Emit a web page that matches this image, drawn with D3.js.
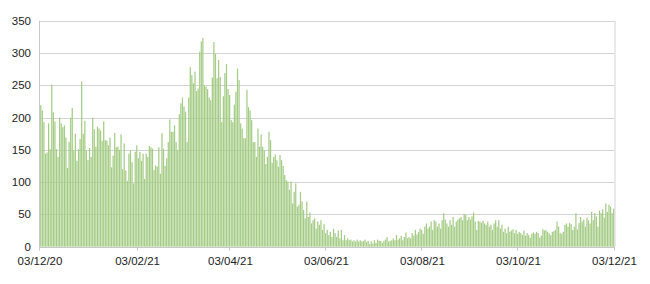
<!DOCTYPE html>
<html>
<head>
<meta charset="utf-8">
<script src="https://cdn.jsdelivr.net/npm/d3@7"></script>
<style>
  html, body { margin: 0; padding: 0; background: #fff; }
  svg text { font-family: "Liberation Sans", Arial, Helvetica, sans-serif; fill: #222; }
</style>
</head>
<body>
<div id="chart"></div>
<script>
// daily values, first day 03/12/20
const startDate = "03/12/20";
const endDate = "03/12/21";

const valsDec = [219,211,193,144,146,191,151,251,208,194,151,139,200,191,185,188,169,122,162,200,
  215,149,175,133,151,167,256,175,195,149,134,153,139,200,182,155,186,183,180,164,
  194,165,164,157,169,123,141,176,154,155,150,174,120];
const valsFeb = [160,118,102,144,149,131,98,147,157,137,147,133,144,105,144,139,156,154,152,119,
  126,124,154,113,176,152,125,137,162,197,178,178,188,162,150,205,222,231,217,209,
  162,231,278,266,253,271,241,245,302,318];
const valsApr = [323,250,248,244,231,227,262,317,299,261,289,263,193,233,269,283,244,235,196,193,
  220,240,276,258,191,183,168,168,243,216,211,196,162,162,139,183,155,174,155,149,
  128,139,178,165,130,139,143,134,124,142,134,125,111,103];
const valsMay = [101,88,101,67,85,98,62,65,85,70,57,44,70,46,53,36,41,44,28,39,
  34,41,26,35,21,26,18,23,15,28,21,15,25,13,26,10,18,10,13,10,
  11,8,10,8,11,8,10,8,9,11,7];
const valsJun = [9,4,8,5,10,6,11,9,9,6,9,11,15,8,9,10,13,10,18,11,
  13,17,10,15,22,13,15,13,21,17,26,19,23,28,26,20,31,36,28,31,
  39,26,41,39,31,36,28,41,52,42,36,31];
const valsAug = [41,34,46,31,39,42,44,46,41,51,49,41,46,42,47,53,39,26,40,39,
  37,40,36,34,39,31,34,26,36,41,31,41,28,34,23,28,21,31,23,25,
  27,21,26,20,23,21,18,25,17,21,18,14];
const valsOct = [20,22,20,23,21,14,17,27,25,26,23,21,18,23,24,26,39,31,21,20,
  23,34,36,31,37,35,26,31,52,27,37,46,39,42,31,45,41,36,54,41,
  52,47,31,56,52,58,45,67,54,65,62,52,59];

const values = [].concat(valsDec, valsFeb, valsApr, valsMay, valsJun, valsAug, valsOct);

const tickLabels = ["03/12/20","03/02/21","03/04/21","03/06/21","03/08/21","03/10/21","03/12/21"];
const yTicks = [0,50,100,150,200,250,300,350];

const W = 650, H = 284;
const margin = {top: 20.7, right: 35.5, bottom: 37.3, left: 40};

const parse = d3.utcParse("%d/%m/%y");
const t0 = parse(startDate), t1 = parse(endDate);

const days = values.map((v, i) => ({date: d3.utcDay.offset(t0, i), value: v}));

const x = d3.scaleUtc().domain([t0, t1]).range([margin.left, W - margin.right]);
const y = d3.scaleLinear().domain([0, 350]).range([H - margin.bottom, margin.top]);

const svg = d3.select("#chart").append("svg")
  .attr("width", W).attr("height", H);

// horizontal grid
svg.append("g")
  .selectAll("line").data(yTicks).enter().append("line")
  .attr("x1", margin.left).attr("x2", W - margin.right)
  .attr("y1", d => Math.round(y(d)) + 0.5).attr("y2", d => Math.round(y(d)) + 0.5)
  .attr("stroke", "#d4d4d4").attr("stroke-width", 1);

// bars
svg.append("g")
  .selectAll("rect").data(days).enter().append("rect")
  .attr("x", d => x(d.date) + 0.15)
  .attr("width", d => (x(d3.utcDay.offset(d.date, 1)) - x(d.date)) * 0.78)
  .attr("y", d => y(d.value))
  .attr("height", d => y(0) - y(d.value))
  .attr("fill", "#a4cc85");

// frame lines
svg.append("line")
  .attr("x1", margin.left - 0.5).attr("x2", margin.left - 0.5)
  .attr("y1", y(350)).attr("y2", y(0))
  .attr("stroke", "#c8c8c8");
svg.append("line")
  .attr("x1", W - margin.right + 0.5).attr("x2", W - margin.right + 0.5)
  .attr("y1", y(350)).attr("y2", y(0))
  .attr("stroke", "#d4d4d4");
svg.append("line")
  .attr("x1", margin.left).attr("x2", W - margin.right)
  .attr("y1", Math.round(y(0)) + 0.5).attr("y2", Math.round(y(0)) + 0.5)
  .attr("stroke", "#c8c8c8");

// y labels
svg.append("g")
  .selectAll("text").data(yTicks).enter().append("text")
  .attr("x", 31).attr("y", d => y(d))
  .attr("dy", "0.35em")
  .attr("text-anchor", "end")
  .attr("font-size", "11.5px")
  .text(d => d);

// x ticks and labels
const xTicks = tickLabels.map(s => ({label: s, date: parse(s)}));
svg.append("g")
  .selectAll("line").data(xTicks).enter().append("line")
  .attr("x1", d => Math.round(x(d.date)) - 0.5).attr("x2", d => Math.round(x(d.date)) - 0.5)
  .attr("y1", y(0)).attr("y2", y(0) + 4)
  .attr("stroke", "#c8c8c8");
svg.append("g")
  .selectAll("text").data(xTicks).enter().append("text")
  .attr("x", d => x(d.date)).attr("y", 265)
  .attr("text-anchor", "middle")
  .attr("font-size", "11.5px")
  .text(d => d.label);
</script>
</body>
</html>
